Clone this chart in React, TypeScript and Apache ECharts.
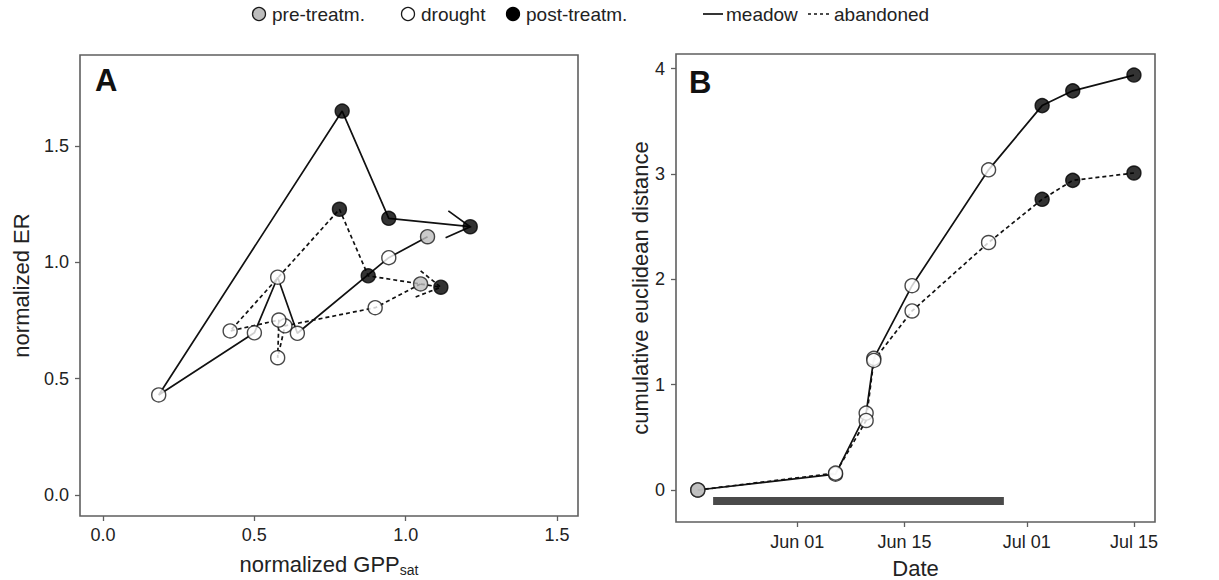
import React, { useEffect, useRef } from 'react';
import * as echarts from 'echarts';

// ---------- data ----------
const phases = ['pre', 'drought', 'drought', 'drought', 'drought', 'drought', 'post', 'post', 'post'];

// Panel A: normalized GPPsat (x) vs normalized ER (y), in temporal order
const meadowGPP = [1.072, 0.944, 0.642, 0.577, 0.5, 0.184, 0.79, 0.944, 1.213];
const meadowER = [1.11, 1.02, 0.695, 0.936, 0.697, 0.43, 1.65, 1.189, 1.153];
const abandonedGPP = [1.049, 0.899, 0.601, 0.577, 0.581, 0.42, 0.781, 0.876, 1.116];
const abandonedER = [0.907, 0.805, 0.727, 0.59, 0.752, 0.705, 1.228, 0.942, 0.893];

const aTicks = [0, 0.5, 1.0, 1.5];

// Panel B: cumulative euclidean distance over time
const bDates = ['2011-05-19', '2011-06-06', '2011-06-10', '2011-06-11', '2011-06-16', '2011-06-26', '2011-07-03', '2011-07-07', '2011-07-15'];
const bMeadow = [0, 0.15, 0.73, 1.25, 1.94, 3.04, 3.65, 3.79, 3.94];
const bAbandoned = [0, 0.16, 0.66, 1.23, 1.7, 2.35, 2.76, 2.94, 3.01];
const droughtPeriod = ['2011-05-21', '2011-06-28'];
const droughtBarLevel = -0.105;

const bYTicks = [0, 1, 2, 3, 4];
const bXTickDates = ['2011-06-01', '2011-06-15', '2011-07-01', '2011-07-15'];
const monthNames = ['Jan', 'Feb', 'Mar', 'Apr', 'May', 'Jun', 'Jul', 'Aug', 'Sep', 'Oct', 'Nov', 'Dec'];

const legendPhases = ['pre-treatm.', 'drought', 'post-treatm.'];
const legendSites = ['meadow', 'abandoned'];

// ---------- helpers ----------
const FONT = '"Liberation Sans", Arial, Helvetica, sans-serif';
const ts = (s: string) => Date.parse(s + 'T00:00:00Z');
const DAY = 86400000;

const phaseStyle: Record<string, any> = {
  pre: { color: '#bdbdbd', borderColor: '#1a1a1a', borderWidth: 1.4 },
  drought: { color: '#ffffff', borderColor: '#1a1a1a', borderWidth: 1.4 },
  post: { color: '#000000', borderColor: '#000000', borderWidth: 1.4 },
};

export default function App() {
  const ref = useRef<HTMLDivElement>(null);

  useEffect(() => {
    const chart = echarts.init(ref.current!, null, { renderer: 'svg' });

    const zip = (xs: any[], ys: number[]) => xs.map((x, i) => [x, ys[i]]);
    const phasePoints = (xs: any[], ys: number[], ph: string) =>
      xs.map((x, i) => (phases[i] === ph ? [x, ys[i]] : null)).filter((d) => d !== null);

    const lineColor = '#111111';
    const dash = [4, 3];
    const axisColor = '#5f5f5f';

    const scatterSeries = (xi: number, seriesList: Array<[any[], number[]]>) =>
      ['pre', 'drought', 'post'].map((ph) => ({
        type: 'scatter',
        xAxisIndex: xi,
        yAxisIndex: xi,
        symbol: 'circle',
        symbolSize: 14,
        itemStyle: phaseStyle[ph],
        z: 5,
        data: seriesList.flatMap(([xs, ys]) => phasePoints(xs, ys, ph)),
      }));

    const arrowData = [
      [meadowGPP[7], meadowER[7], meadowGPP[8], meadowER[8], 0],
      [abandonedGPP[7], abandonedER[7], abandonedGPP[8], abandonedER[8], 1],
    ];

    const tickLabelStyle = { fontSize: 18, color: '#222', fontFamily: FONT };
    const nameStyle = { fontSize: 22, color: '#222', fontFamily: FONT };

    const bXTicks = bXTickDates.map(ts);
    const jun1 = ts('2011-06-01');

    const option: any = {
      animation: false,
      backgroundColor: '#ffffff',
      textStyle: { fontFamily: FONT },
      grid: [
        { left: 80, top: 55, width: 498, height: 461, outerBoundsMode: 'none', containLabel: false, show: true, borderColor: axisColor, borderWidth: 1.6, backgroundColor: 'transparent' },
        { left: 676, top: 54, width: 479, height: 468, outerBoundsMode: 'none', containLabel: false, show: true, borderColor: axisColor, borderWidth: 1.6, backgroundColor: 'transparent' },
      ],
      xAxis: [
        {
          type: 'value',
          gridIndex: 0,
          min: -0.076,
          max: 1.569,
          axisLine: { show: false, onZero: false },
          axisTick: { show: true, inside: false, length: 5, customValues: aTicks, lineStyle: { color: axisColor, width: 1.3 } },
          axisLabel: { customValues: aTicks, formatter: (v: number) => v.toFixed(1), margin: 10, ...tickLabelStyle },
          splitLine: { show: false },
          name: '{a|normalized GPP}{b|sat}',
          nameLocation: 'middle',
          nameGap: 35,
          nameTextStyle: {
            rich: {
              a: { fontSize: 22, fontFamily: FONT, color: '#222', lineHeight: 26, verticalAlign: 'middle' },
              b: { fontSize: 14, fontFamily: FONT, color: '#222', lineHeight: 12, verticalAlign: 'bottom' },
            },
          },
        },
        {
          type: 'value',
          gridIndex: 1,
          min: jun1 - 15.85 * DAY,
          max: jun1 + 46.75 * DAY,
          axisLine: { show: false, onZero: false },
          axisTick: { show: true, inside: false, length: 5, customValues: bXTicks, lineStyle: { color: axisColor, width: 1.3 } },
          axisLabel: {
            customValues: bXTicks,
            formatter: (v: number) => {
              const d = new Date(v);
              return monthNames[d.getUTCMonth()] + ' ' + String(d.getUTCDate()).padStart(2, '0');
            },
            margin: 11,
            ...tickLabelStyle,
          },
          splitLine: { show: false },
          name: 'Date',
          nameLocation: 'middle',
          nameGap: 35,
          nameTextStyle: nameStyle,
        },
      ],
      yAxis: [
        {
          type: 'value',
          gridIndex: 0,
          min: -0.0903,
          max: 1.891,
          axisLine: { show: false, onZero: false },
          axisTick: { show: true, inside: false, length: 5, customValues: aTicks, lineStyle: { color: axisColor, width: 1.3 } },
          axisLabel: { customValues: aTicks, formatter: (v: number) => v.toFixed(1), margin: 11, ...tickLabelStyle },
          splitLine: { show: false },
          name: 'normalized ER',
          nameLocation: 'middle',
          nameGap: 48,
          nameTextStyle: nameStyle,
        },
        {
          type: 'value',
          gridIndex: 1,
          min: -0.304,
          max: 4.14,
          axisLine: { show: false, onZero: false },
          axisTick: { show: true, inside: false, length: 5, customValues: bYTicks, lineStyle: { color: axisColor, width: 1.3 } },
          axisLabel: { customValues: bYTicks, formatter: (v: number) => String(v), margin: 11, ...tickLabelStyle },
          splitLine: { show: false },
          name: 'cumulative euclidean distance',
          nameLocation: 'middle',
          nameGap: 24,
          nameTextStyle: nameStyle,
        },
      ],
      series: [
        // Panel A paths
        {
          type: 'line', xAxisIndex: 0, yAxisIndex: 0, symbol: 'none', z: 2,
          lineStyle: { color: lineColor, width: 1.7, type: 'solid' },
          data: zip(meadowGPP, meadowER),
        },
        {
          type: 'line', xAxisIndex: 0, yAxisIndex: 0, symbol: 'none', z: 2,
          lineStyle: { color: lineColor, width: 1.7, type: dash },
          data: zip(abandonedGPP, abandonedER),
        },
        {
          type: 'custom', xAxisIndex: 0, yAxisIndex: 0, z: 2,
          encode: { x: [0, 2], y: [1, 3] },
          data: arrowData,
          renderItem: (params: any, api: any) => {
            const p0 = api.coord([api.value(0), api.value(1)]);
            const p1 = api.coord([api.value(2), api.value(3)]);
            const dashed = api.value(4) === 1;
            const ang = Math.atan2(p1[1] - p0[1], p1[0] - p0[0]);
            const L = 27;
            const h = Math.PI / 6;
            const b1 = [p1[0] - L * Math.cos(ang - h), p1[1] - L * Math.sin(ang - h)];
            const b2 = [p1[0] - L * Math.cos(ang + h), p1[1] - L * Math.sin(ang + h)];
            return {
              type: 'polyline',
              shape: { points: [b1, p1, b2] },
              style: { stroke: lineColor, lineWidth: 1.7, fill: null, lineDash: dashed ? dash : null },
            };
          },
        },
        ...scatterSeries(0, [[meadowGPP, meadowER], [abandonedGPP, abandonedER]]),
        // Panel B
        {
          type: 'line', xAxisIndex: 1, yAxisIndex: 1, symbol: 'none', z: 2,
          lineStyle: { color: '#4a4a4a', width: 8, cap: 'butt' },
          data: droughtPeriod.map((d) => [ts(d), droughtBarLevel]),
        },
        {
          type: 'line', xAxisIndex: 1, yAxisIndex: 1, symbol: 'none', z: 2,
          lineStyle: { color: lineColor, width: 1.7, type: 'solid' },
          data: zip(bDates.map(ts), bMeadow),
        },
        {
          type: 'line', xAxisIndex: 1, yAxisIndex: 1, symbol: 'none', z: 2,
          lineStyle: { color: lineColor, width: 1.7, type: dash },
          data: zip(bDates.map(ts), bAbandoned),
        },
        ...scatterSeries(1, [[bDates.map(ts), bMeadow], [bDates.map(ts), bAbandoned]]),
      ],
      graphic: [
        { type: 'text', left: 95, top: 65, style: { text: 'A', font: `bold 31px ${FONT}`, fill: '#111' } },
        { type: 'text', left: 689, top: 67, style: { text: 'B', font: `bold 31px ${FONT}`, fill: '#111' } },
        // legend
        { type: 'circle', shape: { cx: 259, cy: 14, r: 6.5 }, style: { fill: '#bdbdbd', stroke: '#1a1a1a', lineWidth: 1.3 } },
        { type: 'text', x: 272, y: 14, style: { text: legendPhases[0], font: `19px ${FONT}`, fill: '#222', textVerticalAlign: 'middle' } },
        { type: 'circle', shape: { cx: 408, cy: 14, r: 6.5 }, style: { fill: '#fff', stroke: '#1a1a1a', lineWidth: 1.3 } },
        { type: 'text', x: 421, y: 14, style: { text: legendPhases[1], font: `19px ${FONT}`, fill: '#222', textVerticalAlign: 'middle' } },
        { type: 'circle', shape: { cx: 513, cy: 14, r: 6.5 }, style: { fill: '#000', stroke: '#000', lineWidth: 1.3 } },
        { type: 'text', x: 526, y: 14, style: { text: legendPhases[2], font: `19px ${FONT}`, fill: '#222', textVerticalAlign: 'middle' } },
        { type: 'line', shape: { x1: 703, y1: 14, x2: 723, y2: 14 }, style: { stroke: '#111', lineWidth: 1.7 } },
        { type: 'text', x: 726, y: 14, style: { text: legendSites[0], font: `19px ${FONT}`, fill: '#222', textVerticalAlign: 'middle' } },
        { type: 'line', shape: { x1: 808, y1: 14, x2: 830, y2: 14 }, style: { stroke: '#111', lineWidth: 1.7, lineDash: [3, 3] } },
        { type: 'text', x: 834, y: 14, style: { text: legendSites[1], font: `19px ${FONT}`, fill: '#222', textVerticalAlign: 'middle' } },
      ],
    };

    chart.setOption(option);
    return () => chart.dispose();
  }, []);

  return <div ref={ref} style={{ position: 'absolute', left: 0, top: 0, width: 1219, height: 580 }} />;
}
